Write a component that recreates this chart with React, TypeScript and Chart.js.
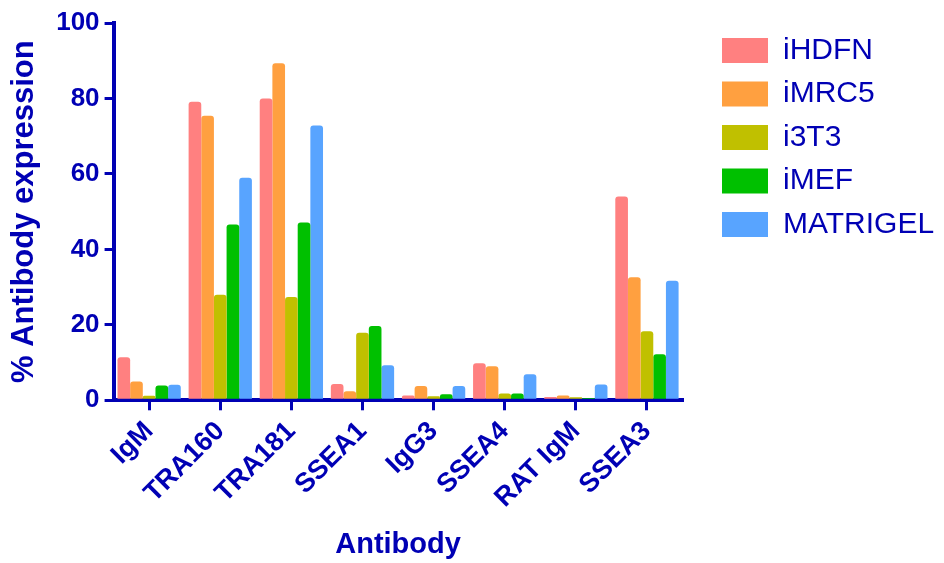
import React, { useEffect, useRef } from "react";
import { Chart, registerables } from "chart.js";

Chart.register(...registerables);

const categories = ["IgM", "TRA160", "TRA181", "SSEA1", "IgG3", "SSEA4", "RAT IgM", "SSEA3"];
const seriesNames = ["iHDFN", "iMRC5", "i3T3", "iMEF", "MATRIGEL"];
const iHDFN = [11.4, 79.1, 80.0, 4.3, 1.3, 9.8, 0.9, 54.0];
const iMRC5 = [5.0, 75.4, 89.3, 2.4, 3.8, 9.0, 1.3, 32.6];
const i3T3 = [1.2, 28.0, 27.4, 17.9, 1.1, 1.8, 0.8, 18.3];
const iMEF = [3.9, 46.6, 47.1, 19.7, 1.6, 1.8, 0.6, 12.2];
const MATRIGEL = [4.1, 59.0, 72.8, 9.3, 3.8, 6.9, 4.2, 31.7];
const yTicks = [0, 20, 40, 60, 80, 100];
const colors = ["#ff8080", "#ffa040", "#c0c000", "#00c000", "#58a4ff"];

const BLUE = "#0000b4";
const FONT = "'Liberation Sans', Arial, sans-serif";

const legendShift = {
  id: "legendShift",
  beforeLayout(chart: any) {
    const lg = chart.legend;
    if (lg && !lg._patched) {
      const orig = lg.fit.bind(lg);
      lg.fit = function () {
        orig();
        this.width += 27;
      };
      lg._patched = true;
    }
  },
  afterLayout(chart: any) {
    const lg = chart.legend;
    if (lg) {
      lg.left += 26;
      lg.top -= 1;
    }
  },
};

export default function App() {
  const ref = useRef<HTMLCanvasElement | null>(null);
  useEffect(() => {
    if (!ref.current) return;
    const values = [iHDFN, iMRC5, i3T3, iMEF, MATRIGEL];
    const chart = new Chart(ref.current, {
      type: "bar",
      data: {
        labels: categories,
        datasets: seriesNames.map((name, i) => ({
          label: name,
          data: values[i],
          backgroundColor: colors[i],
          borderWidth: 0,
          borderRadius: { topLeft: 3, topRight: 3, bottomLeft: 0, bottomRight: 0 },
          borderSkipped: false,
          barPercentage: 1.0,
          categoryPercentage: 0.89,
        })),
      },
      plugins: [legendShift],
      options: {
        animation: false,
        responsive: true,
        maintainAspectRatio: false,
        layout: { padding: { top: 23, bottom: 1, left: 6, right: 0 } },
        plugins: {
          tooltip: { enabled: false },
          legend: {
            position: "right",
            align: "start",
            labels: {
              boxWidth: 46,
              boxHeight: 25,
              padding: 13.5,
              color: BLUE,
              font: { family: FONT, size: 30 },
            },
          },
        },
        scales: {
          x: {
            grid: {
              display: true,
              drawOnChartArea: false,
              drawTicks: true,
              tickLength: 10,
              color: BLUE,
              lineWidth: 3,
              offset: false,
            },
            border: { color: BLUE, width: 4 },
            ticks: {
              color: BLUE,
              maxRotation: 45,
              minRotation: 45,
              padding: 5,
              font: { family: FONT, size: 27, weight: "bold" },
            },
            title: {
              display: true,
              text: "Antibody",
              color: BLUE,
              padding: { top: 8, bottom: 0 },
              font: { family: FONT, size: 29, weight: "bold" },
            },
          },
          y: {
            min: 0,
            max: 100,
            afterBuildTicks: (axis: any) => {
              axis.ticks = yTicks.map((v) => ({ value: v }));
            },
            grid: {
              display: true,
              drawOnChartArea: false,
              drawTicks: true,
              tickLength: 9,
              color: BLUE,
              lineWidth: 3,
            },
            border: { color: BLUE, width: 4 },
            ticks: {
              color: BLUE,
              padding: 5,
              font: { family: FONT, size: 26, weight: "bold" },
            },
            title: {
              display: true,
              text: "% Antibody expression",
              color: BLUE,
              padding: { top: 0, bottom: 8 },
              font: { family: FONT, size: 31, weight: "bold" },
            },
          },
        },
      },
    });
    return () => chart.destroy();
  }, []);
  return (
    <div style={{ position: "absolute", left: 0, top: 0, width: 944, height: 563, background: "#fff" }}>
      <canvas ref={ref} />
    </div>
  );
}
